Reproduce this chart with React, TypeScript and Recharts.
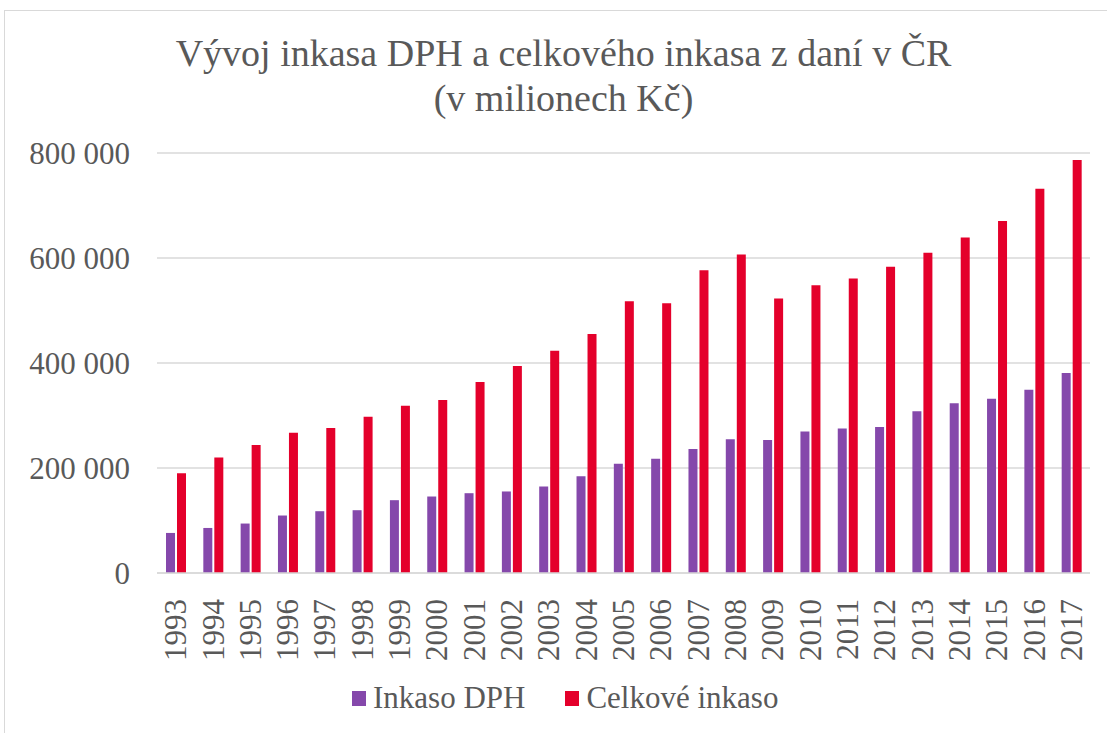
import { BarChart, Bar, XAxis, YAxis, CartesianGrid, Legend } from 'recharts';

const years = [
  '1993', '1994', '1995', '1996', '1997', '1998', '1999', '2000', '2001',
  '2002', '2003', '2004', '2005', '2006', '2007', '2008', '2009', '2010',
  '2011', '2012', '2013', '2014', '2015', '2016', '2017',
];

// Inkaso DPH (mil. Kč)
const inkasoDPH = [
  76300, 85800, 94200, 109500, 117700, 119600, 138700, 145700, 152000,
  155300, 164800, 184500, 207900, 217500, 236000, 255000, 253100, 269700,
  275400, 277900, 307900, 323100, 331900, 349100, 380900,
];

// Celkové inkaso (mil. Kč)
const celkoveInkaso = [
  190200, 220100, 243600, 267000, 276000, 297600, 318600, 329400, 363800,
  394300, 423500, 455300, 517700, 513900, 576800, 606600, 522700, 548200,
  560800, 583100, 609800, 639000, 670300, 731900, 786600,
];

const yTicks = [0, 200000, 400000, 600000, 800000];

const seriesNames = ['Inkaso DPH', 'Celkové inkaso'];
const colors = ['#8548AB', '#E4002B'];

const FONT = '"Liberation Serif", "Times New Roman", serif';
const TEXT = '#595959';

const chartData = years.map((year, i) => ({
  year,
  dph: inkasoDPH[i],
  celkem: celkoveInkaso[i],
}));

// mezera jako oddělovač tisíců, stejně jako v Excelu
const formatThousands = (v: number) =>
  v === 0 ? '0' : String(v).replace(/\B(?=(\d{3})+(?!\d))/g, ' ');

const YearTick = (props: any) => {
  const { x, y, payload } = props;
  return (
    <text
      transform={`translate(${x}, ${y + 18}) rotate(-90)`}
      textAnchor="end"
      dy="0.34em"
      fill={TEXT}
      fontSize={31}
      fontFamily={FONT}
    >
      {payload.value}
    </text>
  );
};

const renderLegend = () => (
  <div style={{ display: 'flex', alignItems: 'center', height: 40, fontFamily: FONT, fontSize: 31, color: TEXT }}>
    {seriesNames.map((name, i) => (
      <div key={name} style={{ display: 'flex', alignItems: 'center', marginRight: i === 0 ? 40 : 0 }}>
        <span style={{ display: 'inline-block', width: 14, height: 15, background: colors[i], marginRight: 7 }} />
        <span>{name}</span>
      </div>
    ))}
  </div>
);

export default function App() {
  return (
    <div style={{ position: 'absolute', left: 0, top: 0, width: 1107, height: 733, background: '#fff', overflow: 'hidden' }}>
      {/* rámeček grafu */}
      <div style={{ position: 'absolute', left: 4, top: 10, width: 1200, height: 800, border: '1px solid #D9D9D9' }} />

      <div
        style={{
          position: 'absolute',
          left: 0,
          width: 1127,
          top: 31,
          textAlign: 'center',
          fontFamily: FONT,
          fontSize: 38,
          lineHeight: '45px',
          color: TEXT,
        }}
      >
        Vývoj inkasa DPH a celkového inkasa z daní v ČR
        <br />
        (v milionech Kč)
      </div>

      <div style={{ position: 'absolute', left: 0, top: 0 }}>
        <BarChart
          width={1107}
          height={733}
          data={chartData}
          margin={{ top: 153, right: 17, bottom: 0, left: 0 }}
          barSize={9}
          barGap={2}
        >
          <CartesianGrid vertical={false} stroke="#D9D9D9" strokeWidth={1.5} />
          <XAxis
            dataKey="year"
            tick={<YearTick />}
            tickLine={false}
            axisLine={{ stroke: '#D9D9D9', strokeWidth: 1.5 }}
            interval={0}
            height={120}
          />
          <YAxis
            domain={[0, 800000]}
            ticks={yTicks}
            tickFormatter={formatThousands}
            tick={{ fill: TEXT, fontSize: 31, fontFamily: FONT }}
            tickLine={false}
            axisLine={false}
            tickSize={0}
            tickMargin={27}
            width={157}
          />
          <Legend
            content={renderLegend}
            wrapperStyle={{ position: 'absolute', left: 352, top: 678, width: 'auto', height: 40 }}
          />
          <Bar dataKey="dph" name={seriesNames[0]} fill={colors[0]} isAnimationActive={false} />
          <Bar dataKey="celkem" name={seriesNames[1]} fill={colors[1]} isAnimationActive={false} />
        </BarChart>
      </div>
    </div>
  );
}
